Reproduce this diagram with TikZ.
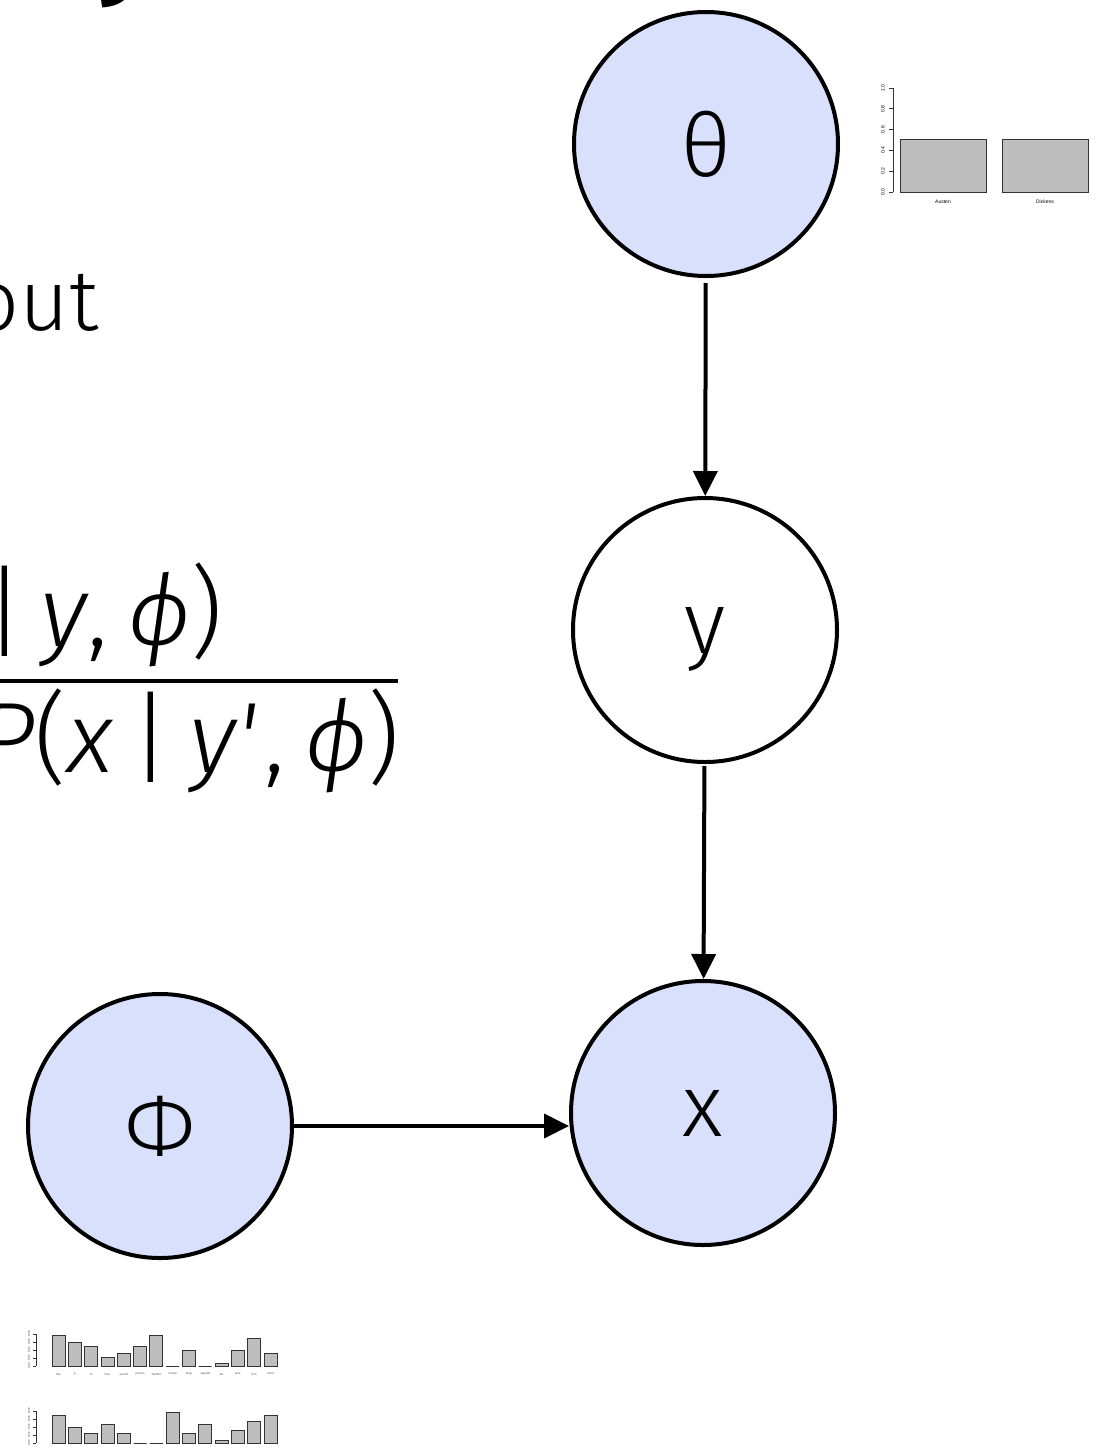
\documentclass[tikz,border=0pt]{standalone}
\usepackage{fontspec}
\setmainfont{Fira Sans Light}[ItalicFont={Fira Sans Light Italic},BoldFont={Fira Sans Bold}]
\newfontfamily\plotfont{Liberation Sans}
\usetikzlibrary{arrows.meta}
\definecolor{nodefill}{RGB}{217,224,252}
\definecolor{bargray}{RGB}{190,190,190}
\newcommand\vi[1]{{\itshape #1}}
\begin{document}
\begin{tikzpicture}[x=1pt,y=-1pt,
  pnode/.style={circle,draw,line width=4pt,minimum size=264pt,inner sep=0pt,font=\fontsize{88}{100}\selectfont},
  obs/.style={pnode,fill=nodefill},
  arr/.style={line width=4pt,-{Triangle[length=25pt,width=24pt]}},
  bigtext/.style={inner sep=0pt,font=\fontsize{86}{100}\selectfont},
  fml/.style={inner sep=0pt,anchor=base west,font=\fontsize{100}{120}\selectfont},
  bar/.style={draw=black!80,line width=0.8pt,fill=bargray},
  axis/.style={line width=0.7pt,draw=black!80},
  ticklab/.style={inner sep=0pt,font=\plotfont\fontsize{5}{6}\selectfont,rotate=90},
  tinylab/.style={inner sep=0pt,font=\plotfont\fontsize{3}{4}\selectfont,text=black!70}]
\useasboundingbox (0,0) rectangle (1102,1449);

% heading fragment and body text (cut off by the page edge)
\node[anchor=base west,inner sep=0pt,font=\fontsize{110}{120}\selectfont\bfseries] (head) at (96,-17) {y};
\node[bigtext,anchor=base east] (about) at (99,330) {out};

% formula fragment
\node[fml] (num) at (-16,646) {|\hspace{16pt}\vi{y},\hspace{20pt}\vi{ϕ})};
\node[fml] (den) at (-22,772) {\vi{P}(\vi{x}\hspace{18pt}|\hspace{18pt}\vi{y\textquotesingle}\hspace{8pt},\hspace{20pt}\vi{ϕ})};
\draw[line width=4pt] (-300,681) -- (398,681);

% graphical model
\node[obs] (theta) at (706,144) {θ};
\node[pnode,text depth=0pt] (y) at (705,630) {y};
\node[obs] (x) at (703,1113) {x};
\node[obs] (phi) at (160,1126) {Φ};
\draw[arr,shorten <=5pt] (theta) -- (y);
\draw[arr,shorten <=2pt] (y) -- (x);
\draw[arr] (phi.east) -- (phi.east -| x.west);

% prior bar chart
\draw[axis] (893,192) -- (893,88);
\foreach \v [count=\k from 0] in {0.0,0.2,0.4,0.6,0.8,1.0} {
  \draw[axis] (893,{192-20.8*\k}) -- (889,{192-20.8*\k});
  \node[ticklab] (pt\k) at (883,{192-20.8*\k}) {\v};
}
\draw[bar] (900,192) rectangle (986,139);
\draw[bar] (1002,192) rectangle (1088,139);
\node[inner sep=0pt,font=\plotfont\fontsize{5}{6}\selectfont] (austen) at (943,202) {Austen};
\node[inner sep=0pt,font=\plotfont\fontsize{5}{6}\selectfont] (dickens) at (1045,202) {Dickens};

% word distribution charts
\foreach \base/\top/\nm in {1366/1334/a,1443/1411/b} {
  \draw[axis] (36,\base) -- (36,\top);
  \foreach \v [count=\k from 0] in {0.00,0.02,0.04,0.06,0.08} {
    \draw[axis] (36,{\base-8*\k}) -- (33,{\base-8*\k});
    \node[ticklab,font=\plotfont\fontsize{2.5}{3}\selectfont] (t\nm\k) at (29,{\base-8*\k}) {\v};
  }
}
\foreach \h [count=\i from 0] in {31,24,20,9,13,20,31,0,16,0,3,16,28,13} {
  \draw[bar] ({52+16.3*\i},1366) rectangle ++(13,-\h);
}
\foreach \w [count=\i from 0] in {the,a,of,love,sword,poison,hamlet,romeo,king,capulet,be,woe,him,most} {
  \node[tinylab] (w\i) at ({58.5+16.3*\i},1374) {\w};
}
\foreach \h [count=\i from 0] in {28,16,10,19,10,0,0,31,10,19,3,13,22,28} {
  \draw[bar] ({52+16.3*\i},1443) rectangle ++(13,-\h);
}
\end{tikzpicture}
\end{document}
